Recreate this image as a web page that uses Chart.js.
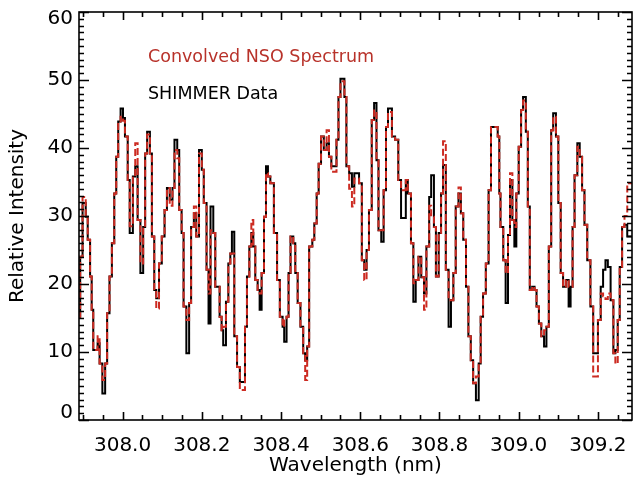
<!DOCTYPE html>
<html>
<head>
<meta charset="utf-8">
<script src="https://cdn.jsdelivr.net/npm/chart.js@4.4.1/dist/chart.umd.min.js"></script>
<style>
  html, body { margin: 0; padding: 0; background: #fff; }
  #wrap { width: 633px; height: 483px; }
</style>
</head>
<body>
<div id="wrap"><canvas id="spectrumChart" width="633" height="483"></canvas></div>
<script>
// wavelength (nm) at the start of each step
const wavelength = [
  307.887, 307.893, 307.899, 307.907, 307.912, 307.918, 307.922, 307.926, 307.937, 307.942,
  307.949, 307.956, 307.961, 307.967, 307.973, 307.979, 307.984, 307.989, 307.995, 308.001,
  308.006, 308.013, 308.018, 308.026, 308.032, 308.038, 308.045, 308.052, 308.057, 308.062,
  308.069, 308.074, 308.080, 308.085, 308.092, 308.099, 308.106, 308.112, 308.119, 308.126,
  308.131, 308.138, 308.143, 308.149, 308.154, 308.161, 308.168, 308.173, 308.180, 308.186,
  308.193, 308.200, 308.205, 308.212, 308.217, 308.222, 308.229, 308.234, 308.245, 308.250,
  308.254, 308.261, 308.267, 308.272, 308.276, 308.282, 308.289, 308.296, 308.309, 308.314,
  308.320, 308.325, 308.330, 308.335, 308.341, 308.346, 308.351, 308.357, 308.362, 308.367,
  308.373, 308.382, 308.390, 308.397, 308.404, 308.408, 308.414, 308.419, 308.424, 308.431,
  308.436, 308.442, 308.449, 308.456, 308.461, 308.466, 308.471, 308.479, 308.484, 308.490,
  308.495, 308.501, 308.508, 308.515, 308.521, 308.527, 308.540, 308.545, 308.550, 308.560,
  308.565, 308.572, 308.579, 308.585, 308.597, 308.604, 308.610, 308.616, 308.622, 308.629,
  308.635, 308.641, 308.646, 308.653, 308.659, 308.665, 308.670, 308.680, 308.688, 308.696,
  308.703, 308.715, 308.720, 308.728, 308.734, 308.740, 308.747, 308.754, 308.761, 308.767,
  308.774, 308.779, 308.786, 308.791, 308.798, 308.804, 308.809, 308.816, 308.823, 308.829,
  308.835, 308.841, 308.848, 308.854, 308.860, 308.867, 308.873, 308.879, 308.885, 308.892,
  308.899, 308.904, 308.910, 308.917, 308.924, 308.930, 308.947, 308.951, 308.954, 308.961,
  308.967, 308.973, 308.978, 308.984, 308.989, 308.994, 309.000, 309.006, 309.011, 309.018,
  309.023, 309.028, 309.034, 309.040, 309.045, 309.051, 309.057, 309.064, 309.070, 309.076,
  309.082, 309.087, 309.094, 309.100, 309.106, 309.112, 309.119, 309.126, 309.131, 309.136,
  309.141, 309.148, 309.154, 309.160, 309.166, 309.173, 309.181, 309.188, 309.200, 309.207,
  309.213, 309.219, 309.225, 309.232, 309.239, 309.244, 309.250, 309.255, 309.261, 309.267,
  309.274, 309.290
];

// SHIMMER Data (black steps)
const shimmer = [
  15.2, 24.0, 31.9, 29.9, 26.5, 21.1, 16.2, 10.3, 11.3, 8.3,
  3.9, 8.3, 15.7, 21.1, 26.0, 33.3, 38.7, 43.9, 45.8, 44.4,
  41.7, 35.3, 27.5, 35.8, 37.3, 29.4, 21.6, 28.4, 39.2, 42.4,
  39.2, 27.0, 19.1, 17.9, 23.0, 27.0, 30.9, 34.1, 32.4, 34.1,
  41.2, 39.7, 30.9, 27.5, 16.7, 9.8, 17.2, 28.4, 30.4, 27.0,
  39.7, 36.8, 31.9, 22.1, 14.2, 31.4, 27.5, 19.6, 15.2, 13.2,
  11.0, 17.4, 23.0, 24.5, 27.7, 12.3, 7.8, 5.6, 13.7, 21.1,
  25.5, 27.5, 25.5, 20.6, 19.1, 16.2, 21.6, 29.9, 37.3, 35.8,
  34.8, 27.5, 20.6, 15.2, 13.7, 11.5, 15.2, 21.6, 27.0, 26.0,
  21.6, 17.2, 13.7, 9.8, 8.8, 10.8, 25.5, 26.5, 28.9, 33.3,
  37.7, 41.7, 39.7, 40.7, 38.7, 37.3, 41.2, 47.5, 50.2, 47.5,
  37.3, 36.3, 34.3, 36.3, 34.8, 23.5, 22.1, 25.0, 30.9, 44.1,
  46.6, 38.2, 27.9, 26.2, 33.8, 43.1, 45.8, 41.7, 41.2, 35.3,
  29.7, 35.3, 33.3, 26.0, 17.4, 20.6, 24.0, 21.0, 18.6, 25.5,
  32.8, 36.0, 28.4, 21.1, 27.5, 33.3, 37.5, 22.1, 13.7, 17.6,
  21.6, 31.4, 33.3, 30.4, 26.5, 19.6, 12.3, 8.8, 5.4, 2.9,
  8.3, 15.2, 18.6, 23.0, 33.8, 43.1, 41.7, 33.3, 28.4, 23.5,
  17.2, 27.2, 35.3, 29.4, 25.5, 33.3, 40.2, 45.6, 47.5, 42.4,
  31.4, 19.1, 19.6, 19.1, 16.7, 14.2, 12.3, 10.8, 13.7, 25.5,
  42.6, 45.1, 41.7, 31.9, 21.6, 19.6, 20.6, 16.7, 19.6, 28.4,
  36.0, 40.7, 38.7, 33.8, 28.7, 23.5, 16.7, 9.8, 14.7, 19.6,
  22.1, 23.5, 22.5, 17.6, 9.8, 10.3, 14.7, 22.5, 28.4, 28.7,
  27.0, 27.0
];

// Convolved NSO Spectrum (red dashes)
const nso = [
  15.2, 24.0, 32.8, 29.9, 26.5, 21.1, 16.2, 10.3, 12.3, 8.3,
  5.9, 8.3, 15.7, 21.1, 26.0, 33.3, 38.7, 43.9, 44.6, 44.0,
  41.7, 35.3, 28.5, 35.8, 40.7, 29.4, 23.0, 28.4, 39.2, 42.0,
  39.2, 27.0, 19.1, 16.4, 23.0, 27.0, 30.9, 34.1, 31.5, 34.1,
  39.7, 38.5, 30.9, 27.5, 16.7, 14.7, 17.2, 28.4, 31.4, 27.0,
  39.2, 36.8, 31.9, 22.1, 18.6, 27.9, 27.5, 19.6, 15.2, 13.2,
  13.7, 17.4, 23.0, 24.5, 24.5, 12.3, 7.8, 4.4, 13.7, 21.1,
  25.5, 29.4, 25.5, 20.6, 19.1, 18.6, 21.6, 29.9, 36.3, 35.8,
  34.8, 27.5, 20.6, 15.2, 13.7, 14.7, 15.2, 21.6, 27.0, 26.0,
  21.6, 17.2, 13.7, 9.8, 5.9, 10.8, 25.5, 26.5, 28.9, 33.3,
  37.7, 41.7, 39.7, 42.6, 38.7, 36.5, 41.2, 47.5, 49.8, 47.5,
  37.3, 34.0, 31.4, 35.5, 34.8, 23.5, 20.6, 25.0, 30.9, 44.1,
  45.5, 38.2, 27.9, 27.9, 33.8, 43.1, 45.3, 41.7, 41.2, 35.3,
  33.8, 35.3, 33.3, 26.0, 20.1, 20.6, 24.0, 21.0, 16.2, 25.5,
  31.5, 29.9, 28.4, 21.1, 27.5, 33.3, 41.0, 22.1, 17.6, 17.6,
  21.6, 31.4, 34.2, 30.4, 26.5, 19.6, 12.3, 8.8, 5.4, 6.4,
  8.3, 15.2, 18.6, 23.0, 33.8, 43.1, 41.7, 33.3, 28.4, 23.5,
  21.6, 27.2, 36.3, 29.4, 28.4, 33.3, 40.2, 45.6, 47.0, 42.4,
  31.4, 19.1, 19.6, 19.1, 16.7, 14.2, 12.3, 13.2, 13.7, 25.5,
  42.6, 44.6, 41.7, 31.9, 21.6, 19.6, 20.6, 19.6, 19.6, 28.4,
  36.0, 40.2, 38.7, 33.8, 28.7, 23.5, 16.7, 6.4, 14.7, 18.6,
  18.2, 17.8, 18.6, 17.6, 9.8, 8.3, 14.7, 22.5, 28.4, 30.0,
  34.8, 34.8
];

const xTicks = [308.0, 308.2, 308.4, 308.6, 308.8, 309.0, 309.2];
const yTicks = [0, 10, 20, 30, 40, 50, 60];

const RED = '#cc2b22';
const FONT = "'DejaVu Sans', sans-serif";

// frame and inward tick marks on all four sides, like the IDL plot
const frameTicks = {
  id: 'frameTicks',
  afterDatasetsDraw(chart) {
    const { ctx, chartArea: a, scales: { x, y } } = chart;
    ctx.save();
    ctx.strokeStyle = '#000';
    ctx.lineWidth = 1.6;
    ctx.strokeRect(a.left, a.top, a.right - a.left, a.bottom - a.top);
    ctx.beginPath();
    for (let i = 0; i < 40; i++) {
      const v = 307.9 + i * 0.05;
      if (v > x.max) break;
      const px = Math.round(x.getPixelForValue(v)) + 0.5;
      const major = xTicks.some(t => Math.abs(t - v) < 1e-6);
      const len = major ? 8 : 5;
      ctx.moveTo(px, a.bottom); ctx.lineTo(px, a.bottom - len);
      ctx.moveTo(px, a.top); ctx.lineTo(px, a.top + len);
    }
    for (let v = 0; v <= 60; v++) {
      const py = Math.round(y.getPixelForValue(v)) + 0.5;
      const len = v % 10 === 0 ? 10 : 5;
      ctx.moveTo(a.left, py); ctx.lineTo(a.left + len, py);
      ctx.moveTo(a.right, py); ctx.lineTo(a.right - len, py);
    }
    ctx.stroke();
    ctx.restore();
  }
};

const inPlotLegend = {
  id: 'inPlotLegend',
  afterDraw(chart) {
    const { ctx } = chart;
    ctx.save();
    ctx.font = '17.5px ' + FONT;
    ctx.textBaseline = 'middle';
    ctx.textAlign = 'left';
    ctx.fillStyle = '#b8322a';
    ctx.fillText('Convolved NSO Spectrum', 148, 57);
    ctx.fillStyle = '#000';
    ctx.fillText('SHIMMER Data', 148, 94);
    ctx.restore();
  }
};

function toPoints(values) {
  return wavelength.map((w, i) => ({ x: w, y: values[i] }));
}

// end labels sit inside the frame, as in the original plot
function yLabel(v) {
  if (v === 60) return ['', '60'];
  if (v === 0) return ['0', ''];
  return String(v);
}

new Chart(document.getElementById('spectrumChart'), {
  type: 'line',
  data: {
    datasets: [{
      label: 'Convolved NSO Spectrum',
      data: toPoints(nso),
      borderColor: RED,
      borderWidth: 2,
      borderDash: [7, 3],
      stepped: true,
      pointRadius: 0,
      order: 0
    },
    {
      label: 'SHIMMER Data',
      data: toPoints(shimmer),
      borderColor: '#000',
      borderWidth: 2,
      stepped: true,
      pointRadius: 0,
      order: 1
    }]
  },
  options: {
    responsive: false,
    animation: false,
    layout: { padding: { top: 12, right: 1, left: 0, bottom: 0 } },
    plugins: {
      legend: { display: false },
      tooltip: { enabled: false }
    },
    scales: {
      x: {
        type: 'linear',
        min: 307.89,
        max: 309.286,
        afterFit: s => { s.height = 63; s.paddingLeft = 0; s.paddingRight = 0; },
        afterBuildTicks: s => { s.ticks = xTicks.map(v => ({ value: v })); },
        grid: { display: false, drawTicks: false },
        border: { display: false },
        ticks: {
          color: '#000',
          padding: 14,
          maxRotation: 0,
          font: { family: FONT, size: 20 },
          callback: v => v.toFixed(1)
        },
        title: {
          display: true,
          text: 'Wavelength (nm)',
          color: '#000',
          font: { family: FONT, size: 20 },
          padding: { top: 0, bottom: 5 }
        }
      },
      y: {
        min: 0,
        max: 60,
        afterFit: s => { s.width = 79; s.paddingTop = 0; s.paddingBottom = 0; },
        afterBuildTicks: s => { s.ticks = yTicks.map(v => ({ value: v })); },
        grid: { display: false, drawTicks: false },
        border: { display: false },
        ticks: {
          color: '#000',
          padding: 6,
          font: ctx => ({ family: FONT, size: 20, lineHeight: (ctx.tick && (ctx.tick.value === 0 || ctx.tick.value === 60)) ? 0.7 : 1.2 }),
          callback: yLabel
        },
        title: {
          display: true,
          text: 'Relative Intensity',
          color: '#000',
          font: { family: FONT, size: 20 },
          padding: { top: 6, bottom: 0 }
        }
      }
    }
  },
  plugins: [frameTicks, inPlotLegend]
});
</script>
</body>
</html>
